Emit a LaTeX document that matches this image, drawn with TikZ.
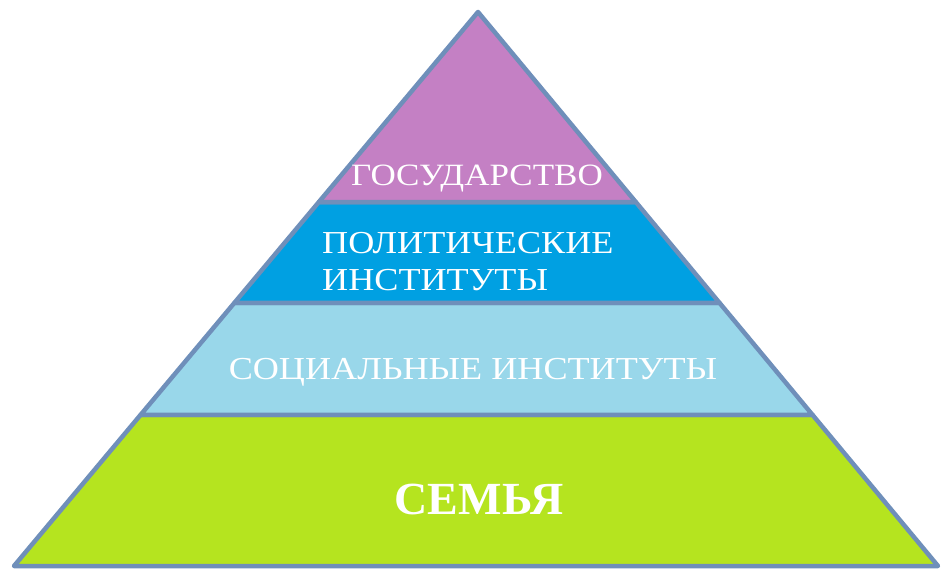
\documentclass[tikz,border=0pt]{standalone}
\usepackage{fontspec}
\setmainfont{Liberation Serif}
\newfontfamily\pyrfont[FakeStretch=1.13]{Liberation Serif}
\usepackage{xcolor}
\usetikzlibrary{calc}

\definecolor{edgeblue}{RGB}{111,143,186}
\definecolor{levelpurple}{RGB}{196,128,196}
\definecolor{levelblue}{RGB}{0,160,226}
\definecolor{levelsky}{RGB}{153,215,234}
\definecolor{levelgreen}{RGB}{181,228,31}

\begin{document}
\begin{tikzpicture}[x=1pt,y=-1pt]
\begin{scope}[band/.style={draw=edgeblue,line width=4.5pt,line join=round},
              levellabel/.style={text=white,inner sep=0pt,anchor=base,
                font=\pyrfont\fontsize{32}{35}\selectfont}]

    \useasboundingbox (0,0) rectangle (951,577);

    \coordinate (apex) at (478,12);
    \coordinate (bl) at (14,566);
    \coordinate (br) at (938,566);

    % left and right points of the band borders
    \coordinate (l1) at ($(apex)!0.343!(bl)$);
    \coordinate (r1) at ($(apex)!0.343!(br)$);
    \coordinate (l2) at ($(apex)!0.525!(bl)$);
    \coordinate (r2) at ($(apex)!0.525!(br)$);
    \coordinate (l3) at ($(apex)!0.7274!(bl)$);
    \coordinate (r3) at ($(apex)!0.7274!(br)$);

    \draw[band,fill=levelgreen]  (l3) -- (r3) -- (br) -- (bl) -- cycle;
    \draw[band,fill=levelsky]    (l2) -- (r2) -- (r3) -- (l3) -- cycle;
    \draw[band,fill=levelblue]   (l1) -- (r1) -- (r2) -- (l2) -- cycle;
    \draw[band,fill=levelpurple] (apex) -- (r1) -- (l1) -- cycle;

    \node[levellabel,font=\pyrfont\fontsize{31}{34}\selectfont] (state) at (477,186) {ГОСУДАРСТВО};
    \node[levellabel,anchor=base west] (polit) at (322,254) {ПОЛИТИЧЕСКИЕ};
    \node[levellabel,anchor=base west] (politinst) at (322,291) {ИНСТИТУТЫ};
    \node[levellabel] (social) at (473,380) {СОЦИАЛЬНЫЕ ИНСТИТУТЫ};
    \node[levellabel,font=\bfseries\fontsize{46}{50}\selectfont] (family) at (479,514) {СЕМЬЯ};
\end{scope}
\end{tikzpicture}
\end{document}
